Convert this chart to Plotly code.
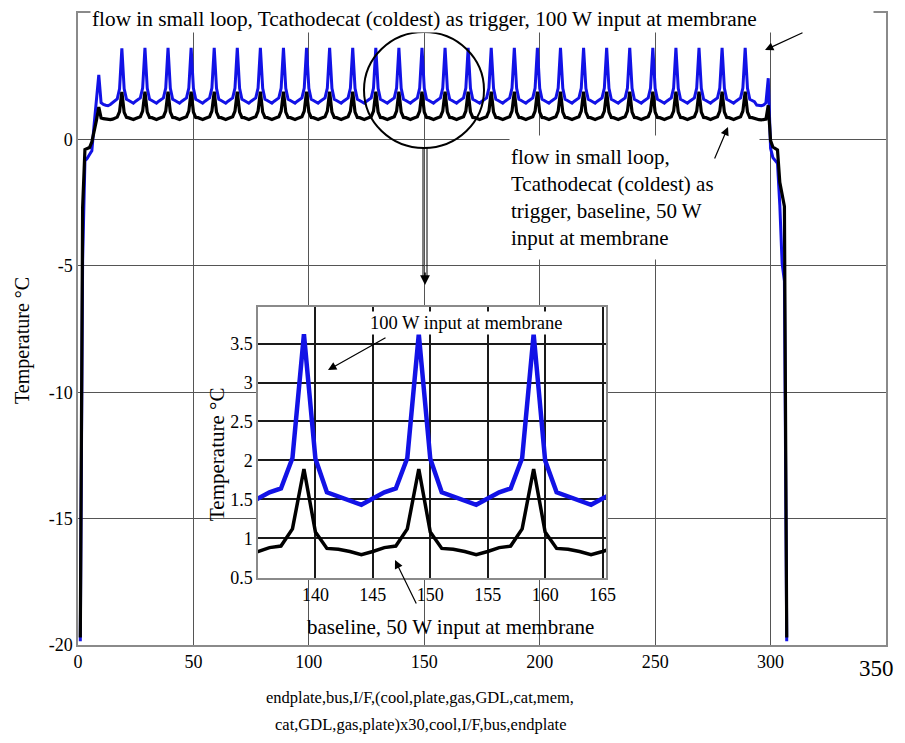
import plotly.graph_objects as go

# ---------------- data ----------------
# layer index 1..307: endplate,bus,I/F,(cool,plate,gas,GDL,cat,mem,cat,GDL,gas,plate)x30,cool,I/F,bus,endplate
layer_index = list(range(1, 308))

temp_100w = [
    -19.85, -4.8, -0.85,                                           # endplate, bus, I/F
    -0.75, -0.6, -0.45, 0.6, 1.45, 2.55, 1.45, 1.38, 1.35, 1.33,   # cell 1
    1.38, 1.45, 1.52, 1.6, 2.0, 3.6, 2.0, 1.59, 1.54, 1.49,        # cell 2
    1.43, 1.51, 1.59, 1.64, 2.03, 3.62, 2.02, 1.59, 1.54, 1.49,    # cell 3
    1.43, 1.51, 1.59, 1.64, 2.03, 3.62, 2.02, 1.59, 1.54, 1.49,    # cell 4
    1.43, 1.51, 1.59, 1.64, 2.03, 3.62, 2.02, 1.59, 1.54, 1.49,    # cell 5
    1.43, 1.51, 1.59, 1.64, 2.03, 3.62, 2.02, 1.59, 1.54, 1.49,    # cell 6
    1.43, 1.51, 1.59, 1.64, 2.03, 3.62, 2.02, 1.59, 1.54, 1.49,    # cell 7
    1.43, 1.51, 1.59, 1.64, 2.03, 3.62, 2.02, 1.59, 1.54, 1.49,    # cell 8
    1.43, 1.51, 1.59, 1.64, 2.03, 3.62, 2.02, 1.59, 1.54, 1.49,    # cell 9
    1.43, 1.51, 1.59, 1.64, 2.03, 3.62, 2.02, 1.59, 1.54, 1.49,    # cell 10
    1.43, 1.51, 1.59, 1.64, 2.03, 3.62, 2.02, 1.59, 1.54, 1.49,    # cell 11
    1.43, 1.51, 1.59, 1.64, 2.03, 3.62, 2.02, 1.59, 1.54, 1.49,    # cell 12
    1.43, 1.51, 1.59, 1.64, 2.03, 3.62, 2.02, 1.59, 1.54, 1.49,    # cell 13
    1.43, 1.51, 1.59, 1.64, 2.03, 3.62, 2.02, 1.59, 1.54, 1.49,    # cell 14
    1.43, 1.51, 1.59, 1.64, 2.03, 3.62, 2.02, 1.59, 1.54, 1.49,    # cell 15
    1.43, 1.51, 1.59, 1.64, 2.03, 3.62, 2.00, 1.59, 1.54, 1.49,    # cell 16
    1.43, 1.51, 1.59, 1.64, 2.03, 3.62, 2.02, 1.59, 1.54, 1.49,    # cell 17
    1.43, 1.51, 1.59, 1.64, 2.03, 3.62, 2.02, 1.59, 1.54, 1.49,    # cell 18
    1.43, 1.51, 1.59, 1.64, 2.03, 3.62, 2.02, 1.59, 1.54, 1.49,    # cell 19
    1.43, 1.51, 1.59, 1.64, 2.03, 3.62, 2.02, 1.59, 1.54, 1.49,    # cell 20
    1.43, 1.51, 1.59, 1.64, 2.03, 3.62, 2.02, 1.59, 1.54, 1.49,    # cell 21
    1.43, 1.51, 1.59, 1.64, 2.03, 3.62, 2.02, 1.59, 1.54, 1.49,    # cell 22
    1.43, 1.51, 1.59, 1.64, 2.03, 3.62, 2.02, 1.59, 1.54, 1.49,    # cell 23
    1.43, 1.51, 1.59, 1.64, 2.03, 3.62, 2.02, 1.59, 1.54, 1.49,    # cell 24
    1.43, 1.51, 1.59, 1.64, 2.03, 3.62, 2.02, 1.59, 1.54, 1.49,    # cell 25
    1.43, 1.51, 1.59, 1.64, 2.03, 3.62, 2.02, 1.59, 1.54, 1.49,    # cell 26
    1.43, 1.51, 1.59, 1.64, 2.03, 3.62, 2.02, 1.59, 1.54, 1.49,    # cell 27
    1.43, 1.51, 1.59, 1.64, 2.03, 3.62, 2.02, 1.59, 1.54, 1.49,    # cell 28
    1.43, 1.51, 1.59, 1.64, 2.03, 3.62, 2.02, 1.59, 1.54, 1.49,    # cell 29
    1.36, 1.33, 1.33, 1.36, 1.45, 2.42, -0.35, -0.72, -0.86, -0.95,  # cell 30
    -2.6, -4.9, -5.6, -19.85,                                      # cool, I/F, bus, endplate
]

temp_50w = [
    -19.7, -2.7, -0.4,                                             # endplate, bus, I/F
    -0.36, -0.32, -0.1, 0.3, 0.76, 1.28, 0.85, 0.82, 0.8, 0.8,     # cell 1
    0.78, 0.8, 0.85, 0.88, 1.1, 1.88, 1.07, 0.87, 0.85, 0.83,      # cell 2
    0.79, 0.83, 0.88, 0.9, 1.12, 1.89, 1.08, 0.87, 0.86, 0.83,     # cell 3
    0.79, 0.83, 0.88, 0.9, 1.12, 1.89, 1.08, 0.87, 0.86, 0.83,     # cell 4
    0.79, 0.83, 0.88, 0.9, 1.12, 1.89, 1.08, 0.87, 0.86, 0.83,     # cell 5
    0.79, 0.83, 0.88, 0.9, 1.12, 1.89, 1.08, 0.87, 0.86, 0.83,     # cell 6
    0.79, 0.83, 0.88, 0.9, 1.12, 1.89, 1.08, 0.87, 0.86, 0.83,     # cell 7
    0.79, 0.83, 0.88, 0.9, 1.12, 1.89, 1.08, 0.87, 0.86, 0.83,     # cell 8
    0.79, 0.83, 0.88, 0.9, 1.12, 1.89, 1.08, 0.87, 0.86, 0.83,     # cell 9
    0.79, 0.83, 0.88, 0.9, 1.12, 1.89, 1.08, 0.87, 0.86, 0.83,     # cell 10
    0.79, 0.83, 0.88, 0.9, 1.12, 1.89, 1.08, 0.87, 0.86, 0.83,     # cell 11
    0.79, 0.83, 0.88, 0.9, 1.12, 1.89, 1.08, 0.87, 0.86, 0.83,     # cell 12
    0.79, 0.83, 0.88, 0.9, 1.12, 1.89, 1.08, 0.87, 0.86, 0.83,     # cell 13
    0.79, 0.83, 0.88, 0.9, 1.12, 1.89, 1.08, 0.87, 0.86, 0.83,     # cell 14
    0.79, 0.83, 0.88, 0.9, 1.12, 1.89, 1.08, 0.87, 0.86, 0.83,     # cell 15
    0.79, 0.83, 0.88, 0.9, 1.12, 1.89, 1.08, 0.87, 0.86, 0.83,     # cell 16
    0.79, 0.83, 0.88, 0.9, 1.12, 1.89, 1.08, 0.87, 0.86, 0.83,     # cell 17
    0.79, 0.83, 0.88, 0.9, 1.12, 1.89, 1.08, 0.87, 0.86, 0.83,     # cell 18
    0.79, 0.83, 0.88, 0.9, 1.12, 1.89, 1.08, 0.87, 0.86, 0.83,     # cell 19
    0.79, 0.83, 0.88, 0.9, 1.12, 1.89, 1.08, 0.87, 0.86, 0.83,     # cell 20
    0.79, 0.83, 0.88, 0.9, 1.12, 1.89, 1.08, 0.87, 0.86, 0.83,     # cell 21
    0.79, 0.83, 0.88, 0.9, 1.12, 1.89, 1.08, 0.87, 0.86, 0.83,     # cell 22
    0.79, 0.83, 0.88, 0.9, 1.12, 1.89, 1.08, 0.87, 0.86, 0.83,     # cell 23
    0.79, 0.83, 0.88, 0.9, 1.12, 1.89, 1.08, 0.87, 0.86, 0.83,     # cell 24
    0.79, 0.83, 0.88, 0.9, 1.12, 1.89, 1.08, 0.87, 0.86, 0.83,     # cell 25
    0.79, 0.83, 0.88, 0.9, 1.12, 1.89, 1.08, 0.87, 0.86, 0.83,     # cell 26
    0.79, 0.83, 0.88, 0.9, 1.12, 1.89, 1.08, 0.87, 0.86, 0.83,     # cell 27
    0.79, 0.83, 0.88, 0.9, 1.12, 1.89, 1.08, 0.87, 0.86, 0.83,     # cell 28
    0.79, 0.83, 0.88, 0.9, 1.12, 1.89, 1.08, 0.87, 0.86, 0.83,     # cell 29
    0.78, 0.78, 0.77, 0.77, 0.8, 1.35, -0.05, -0.3, -0.38, -0.42,  # cell 30
    -1.7, -2.2, -2.65, -19.7,                                      # cool, I/F, bus, endplate
]

main_x_ticks = [0, 50, 100, 150, 200, 250, 300, 350]
main_x_labels = ["0", "50", "100", "150", "200", "250", "300", ""]
main_x_end_label = "350"
main_y_ticks = [-20, -15, -10, -5, 0, 5]
main_y_labels = ["-20", "-15", "-10", "-5", "0", "5"]
inset_x_ticks = [140, 145, 150, 155, 160, 165]
inset_y_ticks = [0.5, 1, 1.5, 2, 2.5, 3, 3.5]

# ---------------- layout helpers (reference-pixel coordinates) ----------------
OFF = 8                          # page body margin offset
W, H = 905 - OFF, 743 - 2 * OFF  # figure size so the page does not overflow
PL, PR, PT, PB = 78, 886, 13, 645


def px(x):
    return (x - PL) / (PR - PL)


def py(y):
    return (PB - y) / (PB - PT)


FONT = "Liberation Serif, Times New Roman, serif"
BLUE = "#1212E6"

fig = go.Figure()
fig.add_trace(go.Scatter(x=layer_index, y=temp_100w, mode="lines",
                         line=dict(color=BLUE, width=3), xaxis="x", yaxis="y"))
fig.add_trace(go.Scatter(x=layer_index, y=temp_50w, mode="lines",
                         line=dict(color="black", width=3.2), xaxis="x", yaxis="y"))
fig.add_trace(go.Scatter(x=layer_index, y=temp_100w, mode="lines",
                         line=dict(color=BLUE, width=4.5), xaxis="x2", yaxis="y2"))
fig.add_trace(go.Scatter(x=layer_index, y=temp_50w, mode="lines",
                         line=dict(color="black", width=3.5), xaxis="x2", yaxis="y2"))

axis_common = dict(showgrid=True, zeroline=False, showline=True, mirror=True,
                   ticks="", color="black", automargin=False)


def label(text, x, y, size, **kw):
    d = dict(text=text, xref="paper", yref="paper", x=px(x), y=py(y),
             xanchor="center", yanchor="middle", showarrow=False,
             font=dict(family=FONT, size=size, color="black"))
    d.update(kw)
    return d


def arrow(head_x, head_y, tail_x, tail_y, **kw):
    d = dict(text="", xref="paper", yref="paper", x=px(head_x), y=py(head_y),
             ax=tail_x - head_x, ay=tail_y - head_y, showarrow=True,
             arrowhead=2, arrowsize=1.4, arrowwidth=1.2, arrowcolor="black")
    d.update(kw)
    return d


annotations = [
    label("flow in small loop, Tcathodecat (coldest) as trigger, 100 W input at membrane",
          90, 19, 21.3, xanchor="left", width=780, align="left", bgcolor="white"),
    arrow(765, 50, 804, 32),
    label("flow in small loop,<br>Tcathodecat (coldest) as<br>trigger, baseline, 50 W<br>input at membrane",
          509, 197, 21, xanchor="left", width=247, height=121, align="left",
          valign="middle", bgcolor="white"),
    arrow(728, 127, 714, 160),
    label("Temperature °C", 22, 340, 20, textangle=-90),
    label("endplate,bus,I/F,(cool,plate,gas,GDL,cat,mem,", 420, 697, 16.5),
    label("cat,GDL,gas,plate)x30,cool,I/F,bus,endplate", 420, 724, 16.5),
    label(main_x_end_label, 896, 668, 23, xanchor="right"),
    # inset texts
    label("Temperature °C", 217, 455, 21, textangle=-90),
    label("100 W input at membrane", 466, 323, 18.5, bgcolor="white"),
    arrow(328, 370, 387, 337),
    label("baseline, 50 W input at membrane", 450, 627, 21),
    arrow(395, 560, 417, 605),
    arrow(425, 285, 425, 271, arrowsize=1.3, arrowwidth=1.5),
]

shapes = [
    dict(type="circle", xref="paper", yref="paper", x0=px(364), x1=px(484),
         y0=py(148), y1=py(32), line=dict(color="black", width=2)),
    dict(type="line", xref="paper", yref="paper", x0=px(423), x1=px(423),
         y0=py(148), y1=py(276), line=dict(color="black", width=1)),
    dict(type="line", xref="paper", yref="paper", x0=px(427), x1=px(427),
         y0=py(148), y1=py(276), line=dict(color="black", width=1)),
]

fig.update_layout(
    width=W, height=H, autosize=False,
    margin=dict(l=PL - OFF, r=W - (PR - OFF), t=PT - OFF, b=H - (PB - OFF), autoexpand=False),
    paper_bgcolor="white", plot_bgcolor="white",
    showlegend=False,
    font=dict(family=FONT, color="black"),
    xaxis=dict(domain=[0, 1], range=[0, 350], tickvals=main_x_ticks, ticktext=main_x_labels,
               gridcolor="#555555", gridwidth=1, linecolor="#8a8a8a", linewidth=1.5,
               tickfont=dict(family=FONT, size=18), **axis_common),
    yaxis=dict(domain=[0, 1], range=[-20, 5], tickvals=main_y_ticks, ticktext=main_y_labels,
               gridcolor="#555555", gridwidth=1, linecolor="#8a8a8a", linewidth=1.5,
               tickfont=dict(family=FONT, size=18), **axis_common),
    xaxis2=dict(domain=[px(258), px(606)], anchor="y2", range=[135, 165.3],
                tickvals=inset_x_ticks, gridcolor="#1a1a1a", gridwidth=1.5,
                linecolor="#8a8a8a", linewidth=1.5,
                tickfont=dict(family=FONT, size=18), **axis_common),
    yaxis2=dict(domain=[py(578), py(307)], anchor="x2", range=[0.49, 3.97],
                tickvals=inset_y_ticks, gridcolor="#1a1a1a", gridwidth=1.5,
                linecolor="#8a8a8a", linewidth=1.5,
                tickfont=dict(family=FONT, size=18), **axis_common),
    annotations=annotations,
    shapes=shapes,
)

fig.write_html("out.html")
